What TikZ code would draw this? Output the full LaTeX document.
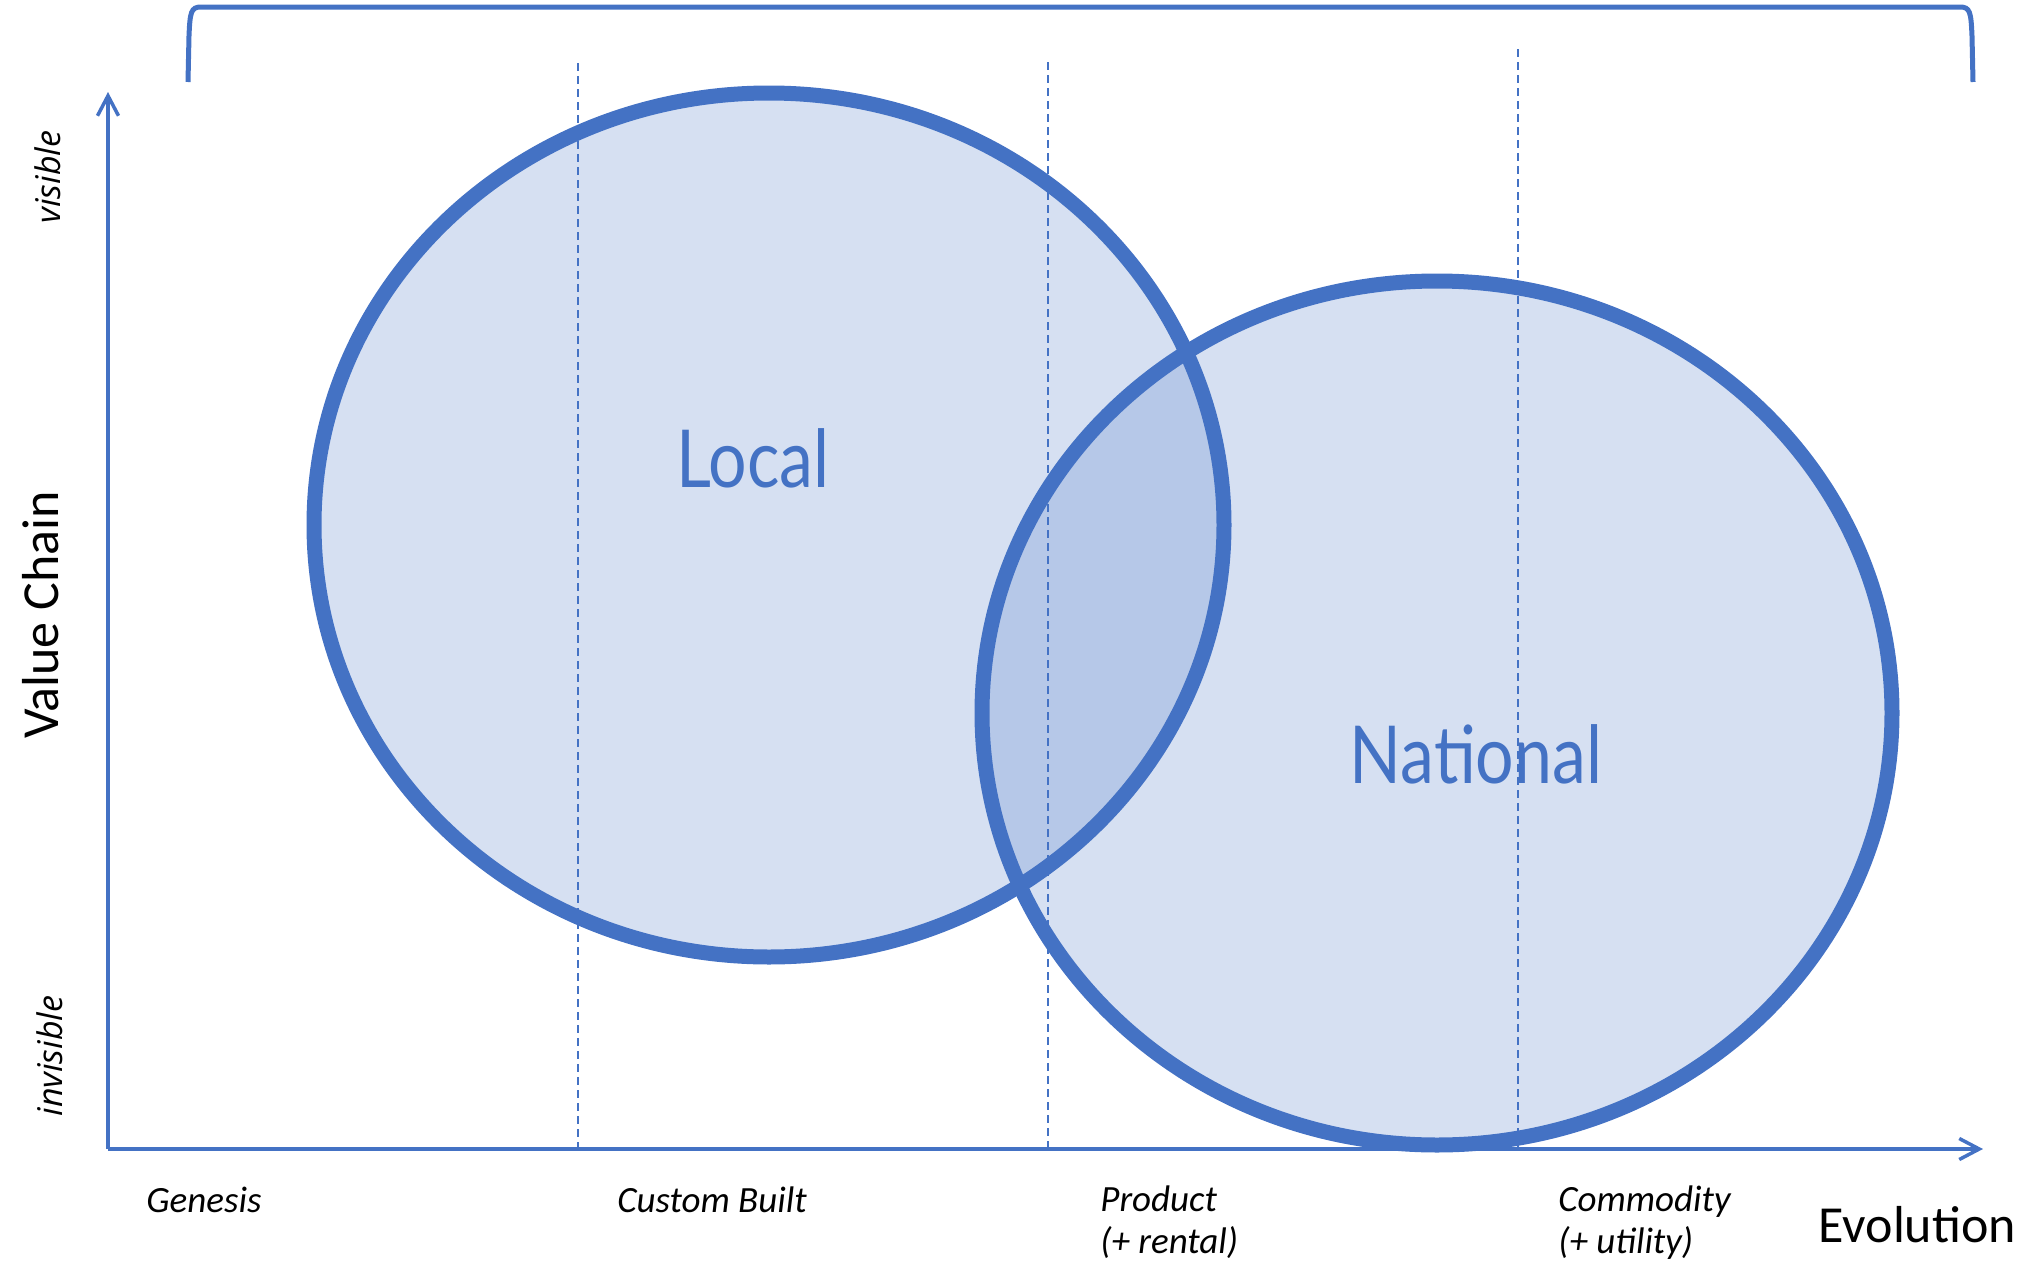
\documentclass[tikz,border=0pt]{standalone}
\usepackage{fontspec}
\setmainfont{Carlito}
\newfontfamily\labfont{Lato}
\newfontfamily\visfont{Open Sans}
\usetikzlibrary{arrows.meta}
\definecolor{wblue}{HTML}{4472C4}
\begin{document}
\begin{tikzpicture}[x=0.5pt,y=-0.5pt,
  blob/.style={draw=wblue, line width=7.5pt, fill=wblue, fill opacity=0.22, draw opacity=1},
  axisline/.style={draw=wblue, line width=1.75pt},
  guide/.style={draw=wblue, line width=0.75pt, dash pattern=on 4pt off 2.5pt},
  bigname/.style={font=\labfont\fontsize{40}{48}\selectfont, text=wblue, inner sep=0pt, xscale=0.85, anchor=base},
  stage/.style={font=\itshape\fontsize{18.5}{21}\selectfont, inner sep=0pt, anchor=base west},
  axtitle/.style={font=\fontsize{26}{30}\selectfont, inner sep=0pt},
  vis/.style={font=\visfont\itshape\fontsize{17}{20}\selectfont, inner sep=0pt, rotate=90, anchor=base}
]
\useasboundingbox (0,0) rectangle (2036,1264);

% ellipses
\path[blob] (769,525) ellipse [x radius=455, y radius=432];
\path[blob] (1437,713) ellipse [x radius=455, y radius=432];

% big labels
\node[bigname] (local) at (753,487) {Local};
\node[bigname] (national) at (1476,783) {National};

% guides
\coordinate (g1t) at (578,63);  \coordinate (g1b) at (578,1149);
\coordinate (g2t) at (1048,62); \coordinate (g2b) at (1048,1149);
\coordinate (g3t) at (1518,49); \coordinate (g3b) at (1518,1149);
\draw[guide] (g1t) -- (g1b);
\draw[guide] (g2t) -- (g2b);
\draw[guide] (g3t) -- (g3b);

% axes
\coordinate (O) at (108,1149);
\coordinate (ytop) at (108,92);
\coordinate (xend) at (1983,1149);
\draw[axisline, -{Straight Barb[length=10pt,width=10.5pt]}] (O) -- (ytop);
\draw[axisline, -{Straight Barb[length=10pt,width=10.5pt]}] (O) -- (xend);

% bracket
\draw[wblue, line width=2.5pt] (188,82) -- (189,36) .. controls (190,12) and (191,7) .. (201,7)
  -- (1960,7) .. controls (1970,7) and (1971,12) .. (1972,36) -- (1973,82);

% axis titles
\node[axtitle, rotate=90, anchor=base] (vc) at (58,615) {Value Chain};
\node[axtitle, anchor=base west] (evo) at (1818,1242) {Evolution};
\node[vis] (visible) at (61,177) {visible};
\node[vis] (invisible) at (62,1056) {invisible};

% stages
\node[stage] (genesis) at (146,1212) {Genesis};
\node[stage] (custom) at (617,1212) {Custom Built};
\node[stage] (product) at (1100,1211) {\begin{tabular}[t]{@{}l@{}}Product\\(+ rental)\end{tabular}};
\node[stage] (commodity) at (1558,1211) {\begin{tabular}[t]{@{}l@{}}Commodity\\(+ utility)\end{tabular}};
\end{tikzpicture}
\end{document}
